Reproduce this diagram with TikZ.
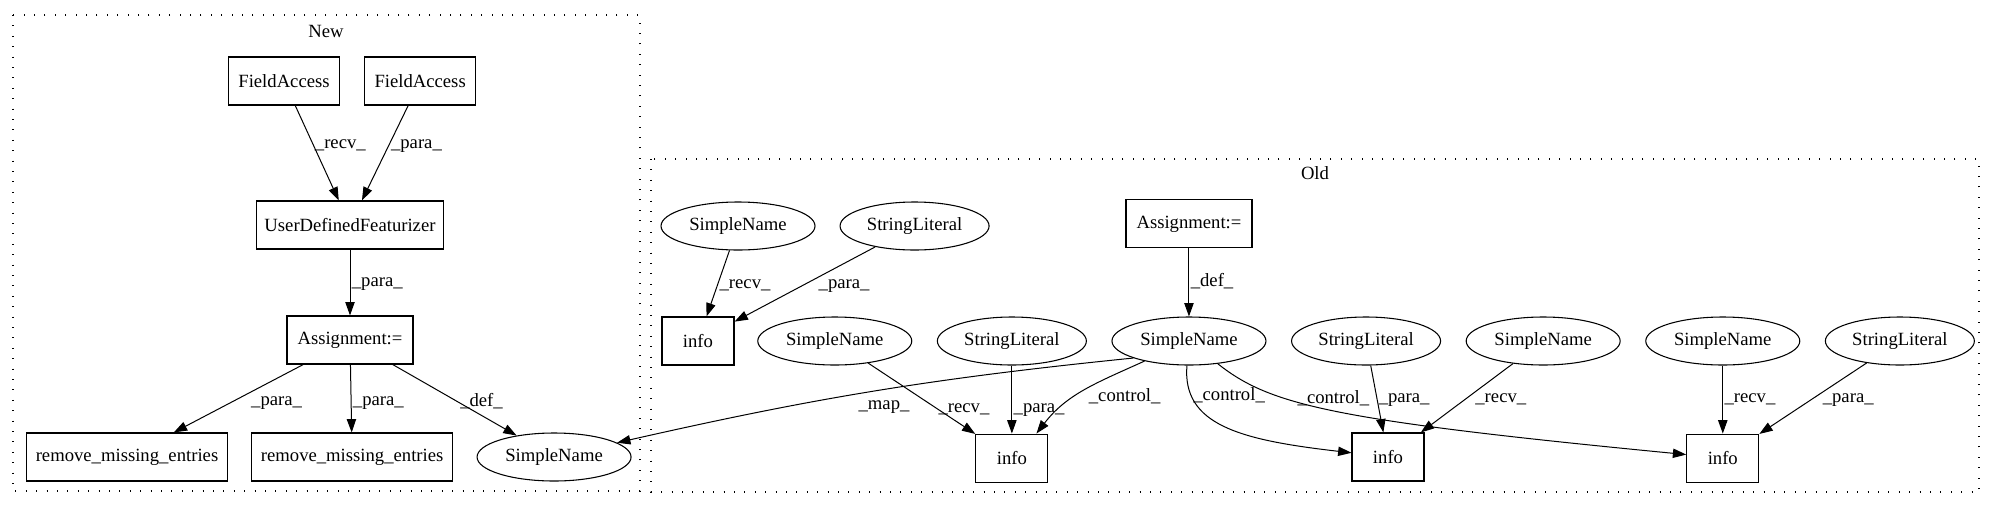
\documentclass[tikz,border=0pt]{standalone}
\usepackage{fontspec}
\setmainfont{Liberation Serif}
\usetikzlibrary{positioning,arrows.meta,shapes.geometric}
\tikzset{
  box/.style={rectangle,draw,line width=0.85pt,minimum height=36pt,inner sep=2pt},
  infobox/.style={box,minimum width=54pt},
  ell/.style={ellipse,draw,line width=0.8pt,minimum height=36pt,inner sep=1pt},
  sname/.style={ell,minimum width=115.5pt},
  slit/.style={ell,minimum width=111.75pt},
  edge/.style={-{Triangle[length=10pt,width=7pt]},line width=0.75pt},
  lbl/.style={right,inner sep=1pt,text height=9pt,text depth=3pt},
  cluster/.style={line width=0.8pt,dash pattern=on 0.8pt off 7pt},
}

\begin{document}
\begin{tikzpicture}[x=0.75pt,y=-0.75pt,font=\fontsize{14}{16}\selectfont]
\useasboundingbox (0,0) rectangle (1995,508);
% clusters
\draw[cluster] (13,15) rectangle (640,491);
\node (newtitle) at (326,31) {New};
\draw[cluster] (651,159) rectangle (1979,492);
\node (oldtitle) at (1315,173) {Old};

% New
\node[box, minimum width=83.25pt] (fa1) at (284,81) {FieldAccess};
\node[box, minimum width=83.25pt, right=18pt of fa1] (fa2) {FieldAccess};
\node[box, minimum width=140.25pt] (udf) at (350,225) {UserDefinedFeaturizer};
\node[box, minimum width=94.5pt] (asgn) at (350,340) {Assignment:=};
\node[box, minimum width=150.75pt] (rme1) at (127,457) {remove\_missing\_entries};
\node[box, minimum width=150.75pt, right=17.25pt of rme1] (rme2) {remove\_missing\_entries};
\node[sname, right=17.5pt of rme2] (snnew) {SimpleName};

% Old
\node[sname] (snA) at (738,226) {SimpleName};
\node[slit, right=18pt of snA] (slA) {StringLiteral};
\node[infobox] (infoA) at (698,341) {info};
\node[sname, right=17pt of infoA] (snB) {SimpleName};
\node[slit, right=18.4pt of snB] (slB) {StringLiteral};
\node[sname, right=18.4pt of slB] (snM) {SimpleName};
\node[slit, right=18.4pt of snM] (slC) {StringLiteral};
\node[sname, right=18.4pt of slC] (snC) {SimpleName};
\node[sname, right=18.4pt of snC] (snD) {SimpleName};
\node[slit, right=18.4pt of snD] (slD) {StringLiteral};
\node[box, minimum width=94.5pt, above=51pt of snM] (asgO) {Assignment:=};
\node[infobox, below=51pt of slB] (info1) {info};
\node[infobox] (info2) at (1388,457) {info};
\node[infobox, below=51pt of snD] (info3) {info};

% New edges
\draw[edge] (fa1) -- node[lbl, pos=0.41] {\_recv\_} (udf);
\draw[edge] (fa2) -- node[lbl, pos=0.41] {\_para\_} (udf);
\draw[edge] (udf) -- node[lbl, pos=0.5] {\_para\_} (asgn);
\draw[edge] (asgn) -- node[lbl, pos=0.55, xshift=13pt] {\_para\_} (rme1);
\draw[edge] (asgn) -- node[lbl, pos=0.55] {\_para\_} (rme2);
\draw[edge] (asgn) -- node[lbl, pos=0.53] {\_def\_} (snnew);

% Old edges
\draw[edge] (snA) -- node[lbl, pos=0.51] {\_recv\_} (infoA);
\draw[edge] (slA) -- node[lbl, pos=0.5, xshift=9pt] {\_para\_} (infoA);
\draw[edge] (asgO) -- node[lbl, pos=0.5] {\_def\_} (snM);
\draw[edge] (snB) -- node[lbl, pos=0.64] {\_recv\_} (info1);
\draw[edge] (slB) -- node[lbl, pos=0.63] {\_para\_} (info1);
\draw[edge] (slC) -- node[lbl, pos=0.49] {\_para\_} (info2);
\draw[edge] (snC) -- node[lbl, pos=0.5, xshift=5pt] {\_recv\_} (info2);
\draw[edge] (snD) -- node[lbl, pos=0.49] {\_recv\_} (info3);
\draw[edge] (slD) -- node[lbl, pos=0.5, xshift=6pt] {\_para\_} (info3);
\draw[edge] (snM.197) .. controls (926,379) and (810,399) ..
  node[pos=0.47, below=7pt, inner sep=1pt] {\_map\_} (snnew);
\draw[edge] (snM) .. controls (1096,383) and (1067,394) ..
  node[lbl, pos=0.6, xshift=10pt] {\_control\_} (info1.45);
\draw[edge] (snM) .. controls (1182,425) and (1240,440) ..
  node[lbl, pos=0.2] {\_control\_} (info2);
\draw[edge] (snM) .. controls (1270,405) and (1330,420) ..
  node[lbl, pos=0.35, xshift=6pt] {\_control\_} (info3);
\end{tikzpicture}
\end{document}
